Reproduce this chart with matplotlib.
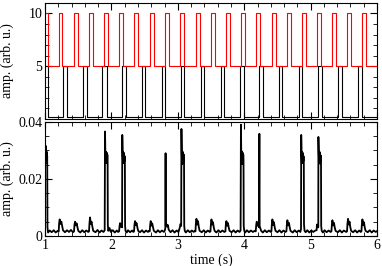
import matplotlib
matplotlib.use("Agg")
import matplotlib.pyplot as plt
from matplotlib.ticker import MultipleLocator

plt.rcParams['font.family'] = ['Liberation Serif', 'DejaVu Serif']
plt.rcParams['font.size'] = 10

# top panel: stimulus trains (red: 5..10, black: 0.2..5)
red_rise = [0.985, 1.211, 1.441, 1.667, 1.893, 2.119, 2.345, 2.581, 2.807, 3.033, 3.270,
            3.496, 3.721, 3.952, 4.178, 4.414, 4.640, 4.866, 5.092, 5.318, 5.553, 5.770]
red_fall = [1.045, 1.261, 1.502, 1.727, 1.953, 2.179, 2.405, 2.642, 2.867, 3.093, 3.331,
            3.557, 3.782, 4.013, 4.238, 4.474, 4.700, 4.926, 5.152, 5.384, 5.613, 5.836]
red_lo, red_hi = 5.0, 10.0

black_rise = [0.970, 1.267, 1.568, 1.863, 2.164, 2.456, 2.758, 3.048, 3.342, 3.646, 3.937,
              4.223, 4.524, 4.821, 5.116, 5.413, 5.718]
black_fall = [1.038, 1.327, 1.628, 1.929, 2.220, 2.506, 2.807, 3.098, 3.390, 3.696, 3.989,
              4.276, 4.574, 4.875, 5.176, 5.469, 5.770]
black_lo, black_hi = 0.2, 5.0

# bottom panel: recorded response
trace_t = [
    1.000, 1.003, 1.006, 1.009, 1.012, 1.016, 1.020, 1.024, 1.028, 1.032, 1.036,
    1.045, 1.070, 1.100, 1.130, 1.160, 1.190,
    1.205, 1.212, 1.220, 1.232, 1.245, 1.258, 1.270,
    1.300, 1.330, 1.360, 1.390, 1.420,
    1.436, 1.443, 1.452, 1.464, 1.476, 1.488, 1.500,
    1.530, 1.560, 1.590, 1.620, 1.650,
    1.662, 1.669, 1.677, 1.689, 1.700, 1.713, 1.725,
    1.760, 1.790, 1.820, 1.850, 1.880, 1.898,
    1.903, 1.908, 1.913, 1.918, 1.923, 1.928, 1.933, 1.938, 1.942, 1.945, 1.952,
    1.970, 1.990, 2.020, 2.050, 2.080, 2.100,
    2.115, 2.122, 2.130, 2.142, 2.152, 2.160,
    2.163, 2.168, 2.173, 2.178, 2.183, 2.188, 2.193, 2.198, 2.202, 2.205, 2.212,
    2.230, 2.250, 2.280, 2.310, 2.330,
    2.340, 2.347, 2.355, 2.367, 2.378, 2.390, 2.402,
    2.430, 2.460, 2.490, 2.520, 2.550, 2.565,
    2.576, 2.583, 2.591, 2.603, 2.614, 2.626, 2.638,
    2.670, 2.700, 2.730, 2.760, 2.790, 2.805,
    2.812, 2.815, 2.818, 2.826, 2.838, 2.850, 2.862,
    2.890, 2.920, 2.950, 2.980, 3.010, 3.030,
    3.040, 3.050, 3.054, 3.059, 3.064, 3.069, 3.074, 3.079, 3.084, 3.089, 3.093, 3.096, 3.104,
    3.120, 3.150, 3.180, 3.210, 3.240, 3.255,
    3.265, 3.272, 3.280, 3.292, 3.303, 3.315, 3.328,
    3.360, 3.390, 3.420, 3.450, 3.480,
    3.491, 3.498, 3.506, 3.518, 3.529, 3.541, 3.553,
    3.580, 3.610, 3.640, 3.670, 3.700,
    3.716, 3.723, 3.731, 3.743, 3.754, 3.766, 3.778,
    3.810, 3.840, 3.870, 3.900, 3.930, 3.945,
    3.950, 3.955, 3.960, 3.965, 3.970, 3.975, 3.980, 3.985, 3.989, 3.992, 4.000,
    4.015, 4.040, 4.070, 4.100, 4.130, 4.160,
    4.173, 4.180, 4.188, 4.200, 4.212, 4.222,
    4.228, 4.232, 4.240, 4.255,
    4.280, 4.310, 4.340, 4.370, 4.400,
    4.409, 4.416, 4.424, 4.436, 4.447, 4.459, 4.471,
    4.500, 4.530, 4.560, 4.590, 4.620,
    4.635, 4.642, 4.650, 4.662, 4.673, 4.685, 4.697,
    4.730, 4.760, 4.790, 4.820, 4.845, 4.855,
    4.858, 4.863, 4.868, 4.873, 4.878, 4.883, 4.888, 4.893, 4.897, 4.900, 4.908,
    4.925, 4.950, 4.980, 5.010, 5.040, 5.070, 5.090,
    5.095, 5.105, 5.115, 5.117, 5.122, 5.127, 5.132, 5.137, 5.142, 5.147, 5.152, 5.156, 5.159, 5.167,
    5.185, 5.210, 5.240, 5.270, 5.300,
    5.313, 5.320, 5.328, 5.340, 5.351, 5.363, 5.375,
    5.410, 5.440, 5.470, 5.500, 5.535,
    5.548, 5.555, 5.563, 5.575, 5.586, 5.598, 5.610,
    5.640, 5.670, 5.700, 5.730, 5.755,
    5.765, 5.772, 5.780, 5.792, 5.803, 5.815, 5.827,
    5.860, 5.890, 5.920, 5.950, 5.980, 6.000,
]
trace_a = [
    0.0275, 0.0300, 0.0262, 0.0316, 0.0255, 0.0298, 0.0260, 0.0295, 0.0270, 0.0280, 0.0030,
    0.0012, 0.0019, 0.0013, 0.0020, 0.0012, 0.0018,
    0.0015, 0.0045, 0.0058, 0.0042, 0.0050, 0.0035, 0.0020,
    0.0013, 0.0020, 0.0014, 0.0021, 0.0013,
    0.0016, 0.0040, 0.0050, 0.0037, 0.0044, 0.0030, 0.0018,
    0.0012, 0.0020, 0.0013, 0.0019, 0.0014,
    0.0016, 0.0045, 0.0065, 0.0042, 0.0050, 0.0032, 0.0018,
    0.0013, 0.0021, 0.0012, 0.0019, 0.0014, 0.0020,
    0.0366, 0.0290, 0.0258, 0.0295, 0.0256, 0.0292, 0.0262, 0.0285, 0.0270, 0.0040, 0.0018,
    0.0028, 0.0014, 0.0020, 0.0012, 0.0019, 0.0014,
    0.0016, 0.0035, 0.0045, 0.0032, 0.0040, 0.0030,
    0.0354, 0.0292, 0.0258, 0.0294, 0.0255, 0.0290, 0.0262, 0.0280, 0.0268, 0.0035, 0.0018,
    0.0012, 0.0020, 0.0013, 0.0019, 0.0014,
    0.0016, 0.0040, 0.0052, 0.0038, 0.0045, 0.0030, 0.0018,
    0.0013, 0.0020, 0.0012, 0.0019, 0.0014, 0.0018,
    0.0016, 0.0038, 0.0052, 0.0036, 0.0044, 0.0030, 0.0018,
    0.0012, 0.0020, 0.0013, 0.0019, 0.0014, 0.0020,
    0.0030, 0.0290, 0.0035, 0.0042, 0.0033, 0.0038, 0.0022,
    0.0013, 0.0020, 0.0012, 0.0019, 0.0014, 0.0030,
    0.0042, 0.0035, 0.0375, 0.0290, 0.0252, 0.0296, 0.0255, 0.0292, 0.0262, 0.0285, 0.0270, 0.0035, 0.0018,
    0.0012, 0.0020, 0.0013, 0.0019, 0.0014, 0.0018,
    0.0016, 0.0045, 0.0060, 0.0040, 0.0052, 0.0032, 0.0018,
    0.0013, 0.0020, 0.0012, 0.0019, 0.0014,
    0.0016, 0.0042, 0.0058, 0.0040, 0.0048, 0.0030, 0.0018,
    0.0012, 0.0020, 0.0013, 0.0019, 0.0014,
    0.0016, 0.0040, 0.0052, 0.0036, 0.0045, 0.0030, 0.0018,
    0.0013, 0.0020, 0.0012, 0.0019, 0.0014, 0.0020,
    0.0390, 0.0292, 0.0255, 0.0296, 0.0252, 0.0292, 0.0260, 0.0285, 0.0268, 0.0035, 0.0018,
    0.0012, 0.0020, 0.0013, 0.0019, 0.0014, 0.0018,
    0.0016, 0.0038, 0.0050, 0.0036, 0.0042, 0.0030,
    0.0358, 0.0035, 0.0028, 0.0018,
    0.0012, 0.0020, 0.0013, 0.0019, 0.0014,
    0.0016, 0.0042, 0.0058, 0.0038, 0.0048, 0.0030, 0.0018,
    0.0013, 0.0020, 0.0012, 0.0019, 0.0014,
    0.0016, 0.0040, 0.0055, 0.0037, 0.0046, 0.0030, 0.0018,
    0.0012, 0.0020, 0.0013, 0.0019, 0.0014, 0.0025,
    0.0354, 0.0290, 0.0256, 0.0294, 0.0255, 0.0290, 0.0262, 0.0280, 0.0268, 0.0040, 0.0018,
    0.0013, 0.0020, 0.0012, 0.0019, 0.0014, 0.0019, 0.0020,
    0.0040, 0.0035, 0.0030, 0.0347, 0.0292, 0.0256, 0.0295, 0.0254, 0.0292, 0.0262, 0.0282, 0.0268, 0.0035, 0.0018,
    0.0012, 0.0020, 0.0013, 0.0019, 0.0014,
    0.0016, 0.0040, 0.0055, 0.0037, 0.0046, 0.0030, 0.0018,
    0.0013, 0.0020, 0.0012, 0.0019, 0.0014,
    0.0016, 0.0044, 0.0060, 0.0040, 0.0050, 0.0030, 0.0018,
    0.0013, 0.0020, 0.0012, 0.0019, 0.0014,
    0.0016, 0.0042, 0.0058, 0.0038, 0.0048, 0.0030, 0.0018,
    0.0013, 0.0020, 0.0012, 0.0019, 0.0014, 0.0017,
]


def pulse_train(rise, fall, lo, hi):
    xs, ys = [], []
    for r, f in zip(rise, fall):
        xs += [r, r, f, f]
        ys += [lo, hi, hi, lo]
    return xs, ys


fig = plt.figure(figsize=(3.82, 2.66), dpi=100)
ax1 = fig.add_axes([0.118, 0.553, 0.869, 0.436])
ax2 = fig.add_axes([0.118, 0.113, 0.869, 0.429])

bx, by = pulse_train(black_rise, black_fall, black_lo, black_hi)
ax1.plot([1.0] + bx + [6.0], [black_lo] + by + [black_lo], color='black', lw=0.8)
rx, ry = pulse_train(red_rise, red_fall, red_lo, red_hi)
ax1.plot(rx + [6.0], ry + [red_lo], color='red', lw=0.8)

ax2.plot(trace_t, trace_a, color='black', lw=1.3)

ax1.set_xlim(1, 6)
ax1.set_ylim(0, 11)
ax1.yaxis.set_minor_locator(MultipleLocator(1))
ax1.set_yticks([5, 10])
ax1.tick_params(labelbottom=False)

ax2.set_xlim(1, 6)
ax2.set_ylim(0, 0.04)
ax2.set_yticks([0, 0.02, 0.04])
ax2.set_yticklabels(['0', '0.02', '0.04'])
ax2.yaxis.set_minor_locator(MultipleLocator(0.005))
ax2.set_xlabel('time (s)', labelpad=1)

for ax in (ax1, ax2):
    ax.xaxis.set_major_locator(MultipleLocator(1))
    ax.xaxis.set_minor_locator(MultipleLocator(0.2))
    ax.tick_params(which='both', direction='in', top=True, right=True, pad=2)
    ax.tick_params(which='major', length=5, width=0.8)
    ax.tick_params(which='minor', length=3, width=0.6)
    ax.set_ylabel('amp. (arb. u.)')
    for s in ax.spines.values():
        s.set_linewidth(0.8)

ax1.yaxis.set_label_coords(-0.095, 0.5)
ax2.yaxis.set_label_coords(-0.095, 0.5)

fig.savefig('out.png', dpi=100)
